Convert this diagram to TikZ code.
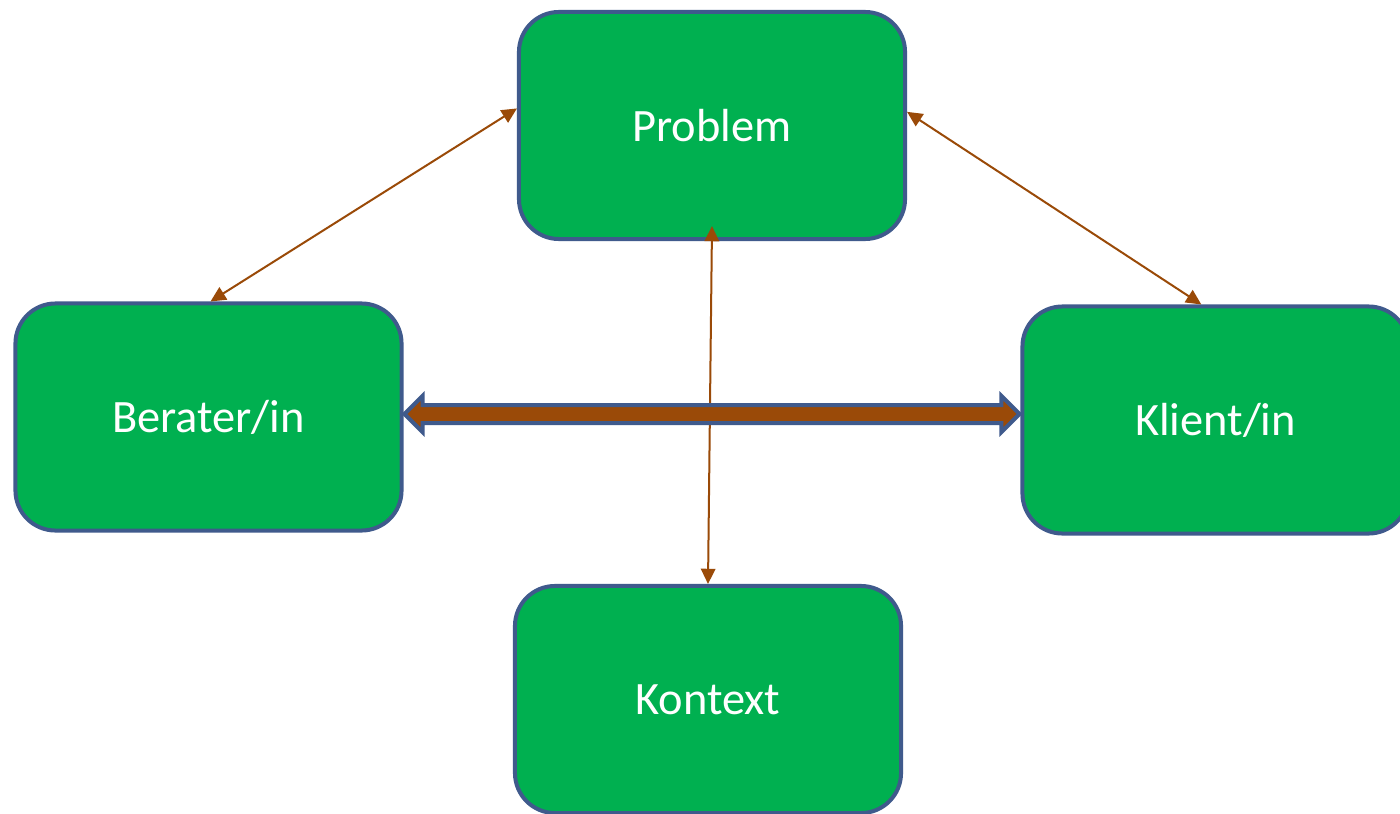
\documentclass[tikz,border=0pt]{standalone}
\usepackage{fontspec}
\setmainfont{Carlito}
\usetikzlibrary{arrows.meta,calc}
\definecolor{boxgreen}{HTML}{00B050}
\definecolor{boxedge}{HTML}{3F5A8C}
\definecolor{linkbrown}{HTML}{9A4A08}
\tikzset{
  box/.style={draw=boxedge, fill=boxgreen, line width=0.1cm, rounded corners=1cm,
    minimum width=9.65cm, minimum height=5.675cm, text=white,
    font=\fontsize{33}{40}\selectfont},
  link/.style={draw=linkbrown, line width=0.05cm,
    {Triangle[length=0.38cm,width=0.36cm]}-{Triangle[length=0.38cm,width=0.36cm]}},
  bigarrow/.style={draw=boxedge, fill=linkbrown, line width=0.1cm, line join=miter}
}
\begin{document}
\begin{tikzpicture}[x=0.025cm, y=-0.025cm]
    \clip (0,0) rectangle (1400,814);
    \fill[white] (0,0) rectangle (1400,814);
    % the four boxes
    \node[box] (problem) at (712,125.5) {Problem};
    \node[box] (berater) at (208.5,417) {Berater/in};
    \node[box] (klient) at (1215.5,420) {Klient/in};
    \node[box] (kontext) at (708,699.5) {Kontext};
    % thin links
    \draw[link] (problem.175) -- (berater.89);
    \draw[link] (problem.4) -- (klient.97);
    \draw[link] ($(problem.south)+(0,-15)$) -- (kontext.north);
    % thick double arrow between Berater/in and Klient/in
    \coordinate (level) at (0,414);
    \coordinate (bl) at ($(berater.east |- level)+(1,0)$);
    \coordinate (kr) at ($(klient.west |- level)+(-1,0)$);
    \draw[bigarrow] (bl) -- ++(18,-18) -- ++(0,9) -- ($(kr)+(-18,-9)$) -- ++(0,-9)
      -- (kr) -- ++(-18,18) -- ++(0,-9) -- ($(bl)+(18,9)$) -- ++(0,9) -- cycle;
\end{tikzpicture}
\end{document}
